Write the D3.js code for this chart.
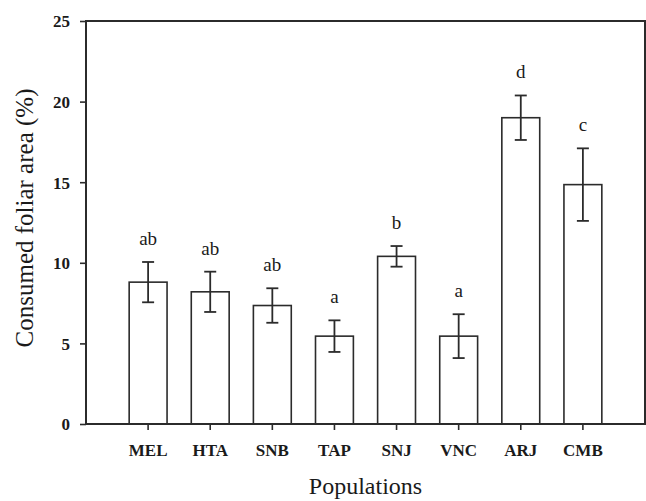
<html>
<head>
<meta charset="utf-8" />
<script src="https://d3js.org/d3.v7.min.js"></script>
<style>
    body { margin: 0px; background: #fff; }
    text { font-family: "Liberation Serif", "DejaVu Serif", serif; fill: #1a1a1a; }
</style>
</head>
<body>
<script type="text/javascript">
// populations, mean consumed area and error (SE)
var populations = ["MEL", "HTA", "SNB", "TAP", "SNJ", "VNC", "ARJ", "CMB"];
var means = [8.8, 8.2, 7.35, 5.45, 10.4, 5.45, 19.0, 14.85];
var errors = [1.25, 1.25, 1.07, 0.98, 0.64, 1.36, 1.38, 2.25];
var letters = ["ab", "ab", "ab", "a", "b", "a", "d", "c"];
var yTicks = [0, 5, 10, 15, 20, 25];

var width = 646, height = 501;
var margin = {top: 21, right: 1, bottom: 77, left: 86};

var data = populations.map((p, i) => ({pop: p, mean: means[i], err: errors[i], letter: letters[i]}));

var svg = d3.select("body").append("svg")
    .attr("width", width)
    .attr("height", height);

var x = d3.scaleBand()
    .domain(populations)
    .range([margin.left, width - margin.right])
    .paddingInner(0.39)
    .paddingOuter(0.695);

var y = d3.scaleLinear()
    .domain([0, 25])
    .range([height - margin.bottom, margin.top]);

var ink = "#2b2b2b";

// bars
svg.append("g")
    .selectAll("rect")
    .data(data)
    .enter()
    .append("rect")
        .attr("x", d => x(d.pop))
        .attr("y", d => y(d.mean))
        .attr("width", x.bandwidth())
        .attr("height", d => y(0) - y(d.mean))
        .style("fill", "#fff")
        .style("stroke", ink)
        .style("stroke-width", 1.6);

// error bars
var cap = 6;
var eb = svg.append("g").selectAll("g").data(data).enter().append("g")
    .attr("transform", d => "translate(" + (x(d.pop) + x.bandwidth() / 2) + ",0)")
    .style("stroke", ink)
    .style("stroke-width", 1.8);
eb.append("line").attr("y1", d => y(d.mean - d.err)).attr("y2", d => y(d.mean + d.err));
eb.append("line").attr("x1", -cap).attr("x2", cap).attr("y1", d => y(d.mean + d.err)).attr("y2", d => y(d.mean + d.err));
eb.append("line").attr("x1", -cap).attr("x2", cap).attr("y1", d => y(d.mean - d.err)).attr("y2", d => y(d.mean - d.err));

// significance letters
svg.append("g").selectAll("text").data(data).enter().append("text")
    .attr("x", d => x(d.pop) + x.bandwidth() / 2)
    .attr("y", d => y(d.mean + d.err) - 17)
    .attr("text-anchor", "middle")
    .style("font-size", "19px")
    .text(d => d.letter);

// axes
var yAxis = svg.append("g")
    .attr("transform", "translate(" + margin.left + ",0)")
    .call(d3.axisLeft(y).tickValues(yTicks).tickSize(6).tickPadding(10));

var xAxis = svg.append("g")
    .attr("transform", "translate(0," + y(0) + ")")
    .call(d3.axisBottom(x).tickSize(6).tickPadding(14));

[yAxis, xAxis].forEach(function(ax) {
    ax.select(".domain").remove();
    ax.selectAll(".tick line").style("stroke", ink).style("stroke-width", 1.6);
    ax.selectAll(".tick text")
        .style("font-family", "'Liberation Serif', serif")
        .style("font-size", "17px")
        .style("font-weight", "bold")
        .style("fill", "#1a1a1a");
});
yAxis.selectAll(".tick text").attr("dy", "0.35em");

// frame
svg.append("rect")
    .attr("x", margin.left)
    .attr("y", margin.top)
    .attr("width", width - margin.right - margin.left)
    .attr("height", y(0) - margin.top)
    .style("fill", "none")
    .style("stroke", ink)
    .style("stroke-width", 2);

// axis titles
svg.append("text")
    .attr("x", (margin.left + width - margin.right) / 2)
    .attr("y", 494)
    .attr("text-anchor", "middle")
    .style("font-size", "24px")
    .text("Populations");

svg.append("text")
    .attr("transform", "translate(33," + 218 + ") rotate(-90)")
    .attr("text-anchor", "middle")
    .style("font-size", "25px")
    .text("Consumed foliar area (%)");
</script>
</body>
</html>
